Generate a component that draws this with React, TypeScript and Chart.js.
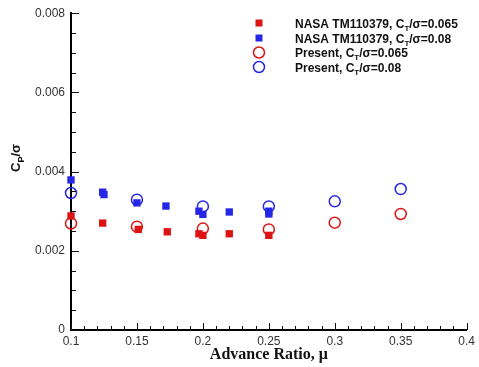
import React, { useEffect, useRef } from "react";
import { Chart, registerables } from "chart.js";

Chart.register(...registerables);

// ---- data ----
const nasa065Mu = [0.1, 0.124, 0.151, 0.173, 0.197, 0.2, 0.22, 0.25];
const nasa065Cp = [0.00288, 0.0027, 0.00254, 0.00248, 0.00243, 0.00239, 0.00243, 0.00239];
const nasa08Mu = [0.1, 0.124, 0.125, 0.15, 0.172, 0.197, 0.2, 0.22, 0.25, 0.25];
const nasa08Cp = [0.00379, 0.00348, 0.00342, 0.00321, 0.00313, 0.003, 0.00292, 0.00298, 0.003, 0.00293];
const presentMu = [0.1, 0.15, 0.2, 0.25, 0.3, 0.35];
const present065Cp = [0.00269, 0.00261, 0.00256, 0.00254, 0.00271, 0.00293];
const present08Cp = [0.00346, 0.00329, 0.00312, 0.00312, 0.00325, 0.00356];

const xTickValues = [0.1, 0.15, 0.2, 0.25, 0.3, 0.35, 0.4];
const yTickValues = [0, 0.002, 0.004, 0.006, 0.008];
const xTickLabels = ["0.1", "0.15", "0.2", "0.25", "0.3", "0.35", "0.4"];
const yTickLabels = ["0", "0.002", "0.004", "0.006", "0.008"];

const seriesLabels = [
  "NASA TM110379, C_T/σ=0.065",
  "NASA TM110379, C_T/σ=0.08",
  "Present, C_T/σ=0.065",
  "Present, C_T/σ=0.08",
];
const xTitle = "Advance Ratio, μ";
const yTitle = "C_P/σ";

const RED = "#dc1414";
const BLUE = "#2626e6";

function parseRich(text: string) {
  const parts: { t: string; sub: boolean }[] = [];
  let i = 0;
  let buf = "";
  while (i < text.length) {
    if (text[i] === "_" && i + 1 < text.length) {
      if (buf) parts.push({ t: buf, sub: false });
      buf = "";
      parts.push({ t: text[i + 1], sub: true });
      i += 2;
    } else {
      buf += text[i];
      i++;
    }
  }
  if (buf) parts.push({ t: buf, sub: false });
  return parts;
}

function drawRich(ctx: CanvasRenderingContext2D, text: string, x: number, y: number, size: number, weight: string, family: string, color: string) {
  const parts = parseRich(text);
  ctx.fillStyle = color;
  ctx.textBaseline = "alphabetic";
  ctx.textAlign = "left";
  let cx = x;
  for (const p of parts) {
    if (p.sub) {
      ctx.font = `${weight} ${Math.round(size * 0.68)}px ${family}`;
      ctx.fillText(p.t, cx, y + size * 0.28);
    } else {
      ctx.font = `${weight} ${size}px ${family}`;
      ctx.fillText(p.t, cx, y);
    }
    cx += ctx.measureText(p.t).width;
  }
  return cx - x;
}

function measureRich(ctx: CanvasRenderingContext2D, text: string, size: number, weight: string, family: string) {
  const parts = parseRich(text);
  let w = 0;
  for (const p of parts) {
    ctx.font = `${weight} ${p.sub ? Math.round(size * 0.68) : size}px ${family}`;
    w += ctx.measureText(p.t).width;
  }
  return w;
}

const decorPlugin = {
  id: "decor",
  afterDraw(chart: any) {
    const ctx: CanvasRenderingContext2D = chart.ctx;
    const xs = chart.scales.x;
    const ys = chart.scales.y;
    const area = chart.chartArea;
    ctx.save();
    ctx.strokeStyle = "#111";
    ctx.lineWidth = 1;
    // x ticks (inward)
    for (let i = 10; i <= 40; i++) {
      const v = i / 100;
      const px = Math.round(xs.getPixelForValue(v)) + 0.5;
      const len = i % 5 === 0 ? 7 : 4;
      ctx.beginPath();
      ctx.moveTo(px, area.bottom);
      ctx.lineTo(px, area.bottom - len);
      ctx.stroke();
    }
    // y ticks (inward)
    for (let i = 0; i <= 16; i++) {
      const v = i * 0.0005;
      const py = Math.round(ys.getPixelForValue(v)) + 0.5;
      const len = i % 4 === 0 ? 8 : 5;
      ctx.beginPath();
      ctx.moveTo(area.left, py);
      ctx.lineTo(area.left + len, py);
      ctx.stroke();
    }

    // y title (rotated)
    const fam = "'Liberation Sans', Arial, sans-serif";
    const ySize = 13;
    const tw = measureRich(ctx, yTitle, ySize, "bold", fam);
    ctx.translate(20, 158);
    ctx.rotate(-Math.PI / 2);
    drawRich(ctx, yTitle, -tw / 2, 0, ySize, "bold", fam, "#111");
    ctx.setTransform(1, 0, 0, 1, 0, 0);

    // legend
    const rows = [23, 38, 52.5, 67];
    chart.data.datasets.forEach((ds: any, i: number) => {
      const cy = rows[i];
      const mx = 259;
      ctx.lineWidth = 1.5;
      if (ds.pointStyle === "rect") {
        ctx.fillStyle = ds.pointBackgroundColor;
        ctx.fillRect(mx - 3.5, cy - 3.5, 7, 7);
      } else {
        ctx.strokeStyle = ds.pointBorderColor;
        ctx.beginPath();
        ctx.arc(mx, cy, 5.5, 0, Math.PI * 2);
        ctx.stroke();
      }
      drawRich(ctx, ds.label, 295, cy + 4.5, 12, "bold", fam, "#111");
    });
    ctx.restore();
  },
};

export default function App() {
  const ref = useRef<HTMLCanvasElement>(null);
  useEffect(() => {
    document.body.style.margin = "0";
    const canvas = ref.current!;
    const mk = (mu: number[], cp: number[]) => mu.map((m, i) => ({ x: m, y: cp[i] }));
    const chart = new Chart(canvas, {
      type: "scatter",
      data: {
        datasets: [
          {
            label: seriesLabels[0],
            data: mk(nasa065Mu, nasa065Cp),
            pointStyle: "rect",
            pointRadius: 5.2,
            pointBackgroundColor: RED,
            pointBorderColor: RED,
            pointBorderWidth: 0,
            clip: false,
            order: 4,
          } as any,
          {
            label: seriesLabels[1],
            data: mk(nasa08Mu, nasa08Cp),
            pointStyle: "rect",
            pointRadius: 5.2,
            pointBackgroundColor: BLUE,
            pointBorderColor: BLUE,
            pointBorderWidth: 0,
            clip: false,
            order: 3,
          },
          {
            label: seriesLabels[2],
            data: mk(presentMu, present065Cp),
            pointStyle: "circle",
            pointRadius: 5.5,
            pointBackgroundColor: "rgba(0,0,0,0)",
            pointBorderColor: RED,
            pointBorderWidth: 1.5,
            clip: false,
            order: 2,
          },
          {
            label: seriesLabels[3],
            data: mk(presentMu, present08Cp),
            pointStyle: "circle",
            pointRadius: 5.5,
            pointBackgroundColor: "rgba(0,0,0,0)",
            pointBorderColor: BLUE,
            pointBorderWidth: 1.5,
            clip: false,
            order: 1,
          },
        ],
      },
      options: {
        responsive: false,
        animation: false,
        devicePixelRatio: 1,
        layout: { padding: { left: 0, right: 10, top: 10, bottom: 0 } },
        plugins: { legend: { display: false }, tooltip: { enabled: false } },
        scales: {
          x: {
            type: "linear",
            min: 0.1,
            max: 0.4,
            grid: { display: false, drawTicks: false },
            border: { display: true, color: "#000", width: 2 },
            afterBuildTicks: (s: any) => {
              s.ticks = xTickValues.map((v) => ({ value: v }));
            },
            afterFit: (s: any) => {
              s.height = 37;
            },
            ticks: {
              autoSkip: false,
              maxRotation: 0,
              padding: 4,
              color: "#333",
              font: { family: "'Liberation Sans', Arial, sans-serif", size: 12 },
              callback: (v: any) => xTickLabels[xTickValues.findIndex((t) => Math.abs(t - v) < 1e-9)] ?? "",
            },
            title: {
              display: true,
              text: xTitle,
              color: "#111",
              font: { family: "'Liberation Serif', 'Times New Roman', serif", size: 16, weight: "bold" },
              padding: { top: 0, bottom: 3 },
            },
          },
          y: {
            type: "linear",
            min: 0,
            max: 0.008,
            grid: { display: false, drawTicks: false },
            border: { display: true, color: "#000", width: 2 },
            afterBuildTicks: (s: any) => {
              s.ticks = yTickValues.map((v) => ({ value: v }));
            },
            afterFit: (s: any) => {
              s.width = 71;
            },
            ticks: {
              autoSkip: false,
              padding: 6,
              color: "#333",
              font: { family: "'Liberation Sans', Arial, sans-serif", size: 12 },
              callback: (v: any) => yTickLabels[yTickValues.findIndex((t) => Math.abs(t - v) < 1e-9)] ?? "",
            },
          },
        },
      },
      plugins: [decorPlugin],
    });
    return () => chart.destroy();
  }, []);
  return (
    <div style={{ width: 479, height: 367 }}>
      <canvas ref={ref} width={479} height={367} />
    </div>
  );
}
